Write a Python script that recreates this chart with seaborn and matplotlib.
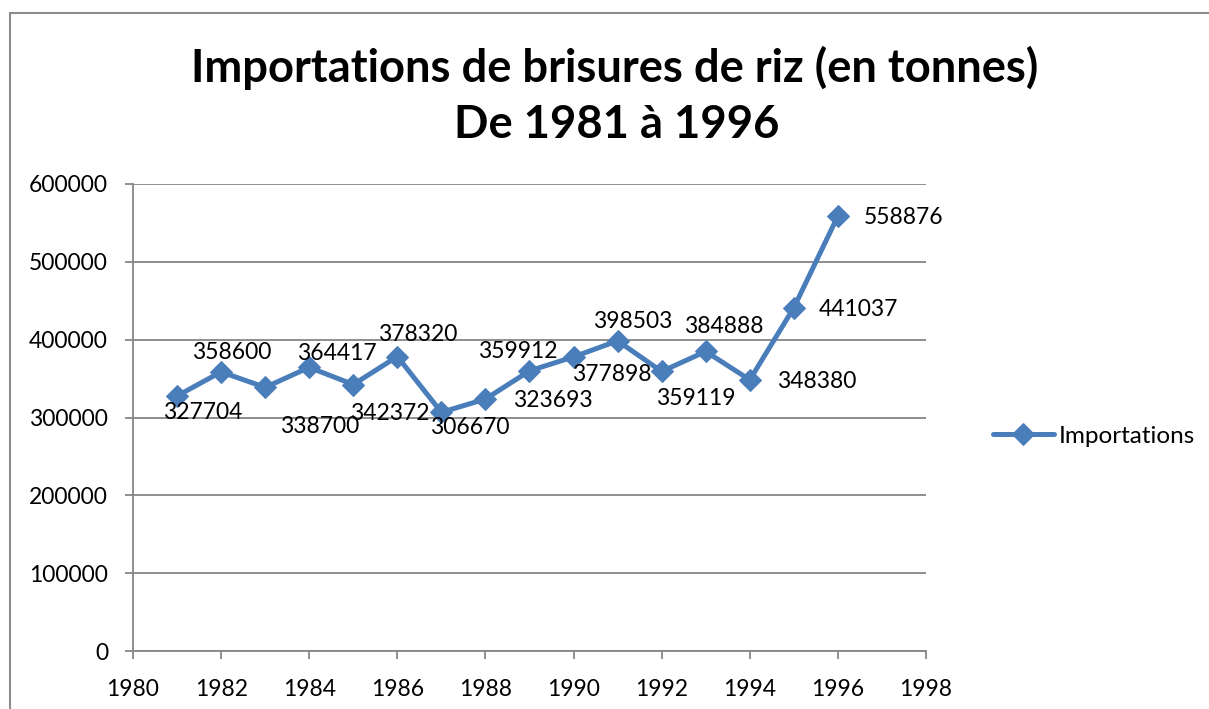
import matplotlib
matplotlib.use('Agg')
import matplotlib.pyplot as plt
import seaborn as sns
from matplotlib.lines import Line2D

# ------------------- Data -------------------
years = [1981, 1982, 1983, 1984, 1985, 1986, 1987, 1988,
         1989, 1990, 1991, 1992, 1993, 1994, 1995, 1996]
imports = [327704, 358600, 338700, 364417, 342372, 378320, 306670, 323693,
           359912, 377898, 398503, 359119, 384888, 348380, 441037, 558876]
x_ticks = list(range(1980, 1999, 2))
y_ticks = list(range(0, 600001, 100000))
title_lines = ['Importations de brisures de riz (en tonnes)', 'De 1981 à 1996']

# label offsets (pixels, from the marker) like the Excel data labels
label_dx = [26, 11, 54, 28, 36, 20, 28, 67, -12, 38, 15, 34, 18, 67, 65, 66]
label_dy = [17, -19, 39, -14, 29, -22, 15, 1, -19, 18, -19, 27, -25, 2, 2, 1]

blue = '#4A7EBB'
grey = '#868686'

# ------------------- Style -------------------
sns.set_style('white')
plt.rcParams['font.family'] = ['Lato', 'DejaVu Sans']
plt.rcParams['text.color'] = 'black'

fig = plt.figure(figsize=(12.09, 7.09), dpi=100)
ax = fig.add_axes([133 / 1209, 1 - 651 / 709, (926 - 133) / 1209, (651 - 184) / 709])

# ------------------- Plot -------------------
sns.lineplot(x=years, y=imports, ax=ax, color=blue, linewidth=3.6,
             marker='D', markersize=11, markeredgecolor=blue, label='Importations')

for x, y, dx, dy in zip(years, imports, label_dx, label_dy):
    ax.annotate(str(y), (x, y), xytext=(dx, -dy), textcoords='offset pixels',
                ha='center', va='center', fontsize=16.5, color='black')

ax.set_xlim(1980, 1998)
ax.set_ylim(0, 600000)
ax.set_xticks(x_ticks)
ax.set_yticks(y_ticks)
ax.set_xticklabels([str(t) for t in x_ticks])
ax.set_yticklabels([str(t) for t in y_ticks])
ax.yaxis.grid(True, color=grey, linewidth=1.3)
ax.set_axisbelow(True)
for side in ['top', 'right']:
    ax.spines[side].set_visible(False)
for side in ['left', 'bottom']:
    ax.spines[side].set_color(grey)
    ax.spines[side].set_linewidth(1.3)
ax.tick_params(axis='both', direction='out', length=6, width=1.3, color=grey,
               labelsize=16.5, labelcolor='black')
ax.tick_params(axis='x', pad=14, bottom=True)
ax.tick_params(axis='y', pad=12, left=True)

ax.get_legend().remove()
leg = fig.legend(*ax.get_legend_handles_labels(), loc='center left',
                 bbox_to_anchor=(993 / 1209, 1 - 436 / 709), frameon=False,
                 borderaxespad=0, borderpad=0, handlelength=2.5, handletextpad=0.2,
                 fontsize=17.5)
for t in leg.get_texts():
    t.set_color('black')

fig.text(0.508, 1 - 68 / 709, title_lines[0], ha='center', va='center',
         fontsize=32.7, fontweight='bold', color='black')
fig.text(0.510, 1 - 125 / 709, title_lines[1], ha='center', va='center',
         fontsize=32.7, fontweight='bold', color='black')

# chart border
fig.add_artist(Line2D([10 / 1209, 10 / 1209], [0, 1 - 13 / 709], transform=fig.transFigure,
                      color='#8c8c8c', linewidth=1.5))
fig.add_artist(Line2D([10 / 1209, 1], [1 - 13 / 709, 1 - 13 / 709], transform=fig.transFigure,
                      color='#8c8c8c', linewidth=1.5))

plt.savefig('out.png', dpi=100)
